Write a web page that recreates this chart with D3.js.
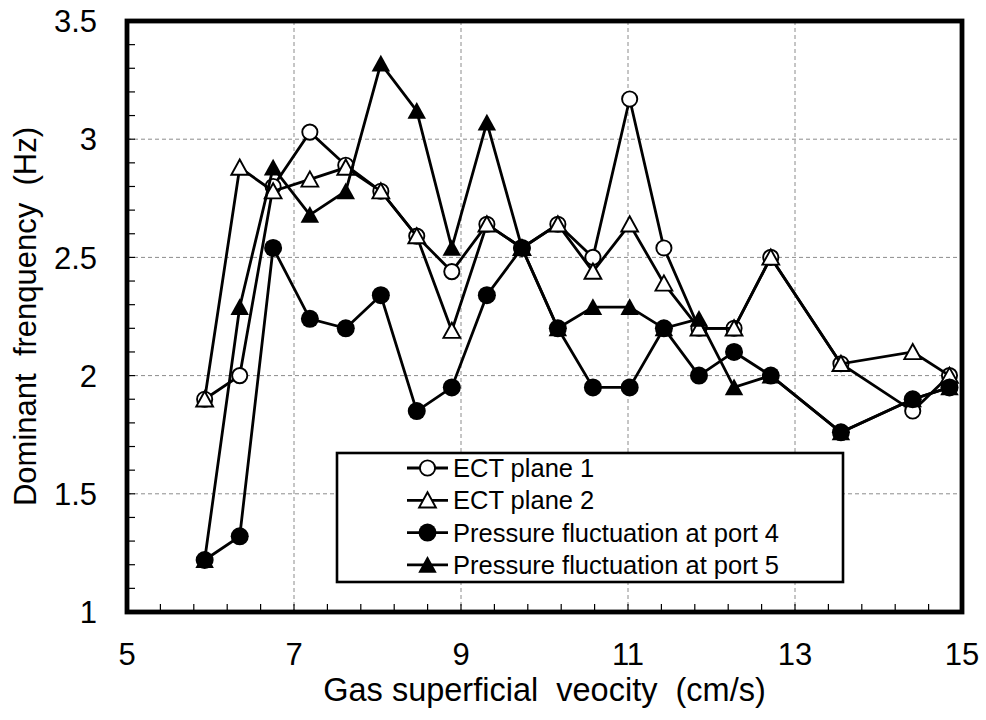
<!DOCTYPE html>
<html>
<head>
<meta charset="utf-8">
<script src="https://cdn.jsdelivr.net/npm/d3@7"></script>
<style>
  html, body { margin: 0; padding: 0; background: #fff; }
  svg { display: block; }
  text { font-family: "Liberation Sans", Arial, sans-serif; fill: #000; white-space: pre; }
</style>
</head>
<body>
<svg id="chart" width="986" height="720"></svg>
<script>
// ---- data ----
const velocity = [5.93, 6.35, 6.75, 7.19, 7.62, 8.04, 8.47, 8.89, 9.31, 9.73, 10.16, 10.58, 11.02, 11.43, 11.85, 12.27, 12.71, 13.55, 14.41, 14.85];
const ectPlane1 = [1.90, 2.00, 2.80, 3.03, 2.89, 2.78, 2.59, 2.44, 2.64, 2.54, 2.64, 2.50, 3.17, 2.54, 2.20, 2.20, 2.50, 2.05, 1.85, 2.00];
const ectPlane2 = [1.90, 2.88, 2.78, 2.83, 2.88, 2.78, 2.59, 2.19, 2.64, 2.54, 2.64, 2.44, 2.64, 2.39, 2.20, 2.20, 2.50, 2.05, 2.10, 2.00];
const port4 = [1.22, 1.32, 2.54, 2.24, 2.20, 2.34, 1.85, 1.95, 2.34, 2.54, 2.20, 1.95, 1.95, 2.20, 2.00, 2.10, 2.00, 1.76, 1.90, 1.95];
const port5 = [1.22, 2.29, 2.88, 2.68, 2.78, 3.32, 3.12, 2.54, 3.07, 2.54, 2.20, 2.29, 2.29, 2.20, 2.24, 1.95, 2.00, 1.76, 1.90, 1.95];
const seriesNames = ["ECT plane 1", "ECT plane 2", "Pressure fluctuation at port 4", "Pressure fluctuation at port 5"];
const xTicks = [5, 7, 9, 11, 13, 15];
const yTicks = [1, 1.5, 2, 2.5, 3, 3.5];
const xTitle = "Gas superficial  veocity  (cm/s)";
const yTitle = "Dominant  frenquency  (Hz)";

// ---- layout ----
const L = 127, R = 962, T = 21, B = 612;
const svg = d3.select("#chart");
const x = d3.scaleLinear().domain([5, 15]).range([L, R]);
const y = d3.scaleLinear().domain([1, 3.5]).range([B, T]);

// gridlines
const grid = svg.append("g").attr("stroke", "#8c8c8c").attr("stroke-width", 1).attr("stroke-dasharray", "4,3");
xTicks.slice(1, -1).forEach(v => grid.append("line").attr("x1", x(v)).attr("x2", x(v)).attr("y1", T).attr("y2", B));
yTicks.slice(1, -1).forEach(v => grid.append("line").attr("y1", y(v)).attr("y2", y(v)).attr("x1", L).attr("x2", R));

// minor ticks (inside)
const tk = svg.append("g").attr("stroke", "#000").attr("stroke-width", 1.2);
d3.range(1, 35).map(i => 1 + i * 0.1).filter(v => v < 3.5).forEach(v =>
  tk.append("line").attr("x1", L).attr("x2", L + 8).attr("y1", y(v)).attr("y2", y(v)));
d3.range(1, 25).map(i => 5 + i * 0.4).filter(v => v < 15).forEach(v =>
  tk.append("line").attr("x1", x(v)).attr("x2", x(v)).attr("y1", B).attr("y2", B - 8));

// frame
svg.append("rect").attr("x", L).attr("y", T).attr("width", R - L).attr("height", B - T)
  .attr("fill", "none").attr("stroke", "#000").attr("stroke-width", 4.8);

// tick labels
yTicks.forEach(v => svg.append("text").attr("x", 97).attr("y", y(v)).attr("dy", "0.36em")
  .attr("text-anchor", "end").attr("font-size", 31).text(v));
xTicks.forEach(v => svg.append("text").attr("x", x(v)).attr("y", 665)
  .attr("text-anchor", "middle").attr("font-size", 31).text(v));

// axis titles
svg.append("text").attr("x", (L + R) / 2).attr("y", 701).attr("text-anchor", "middle")
  .attr("font-size", 32.5).text(xTitle);
svg.append("text").attr("transform", `translate(36,${(T + B) / 2}) rotate(-90)`)
  .attr("text-anchor", "middle").attr("font-size", 31).text(yTitle);

// markers
const triPath = (s) => `M0,${-s}L${s * 1.05},${s * 0.9}L${-s * 1.05},${s * 0.9}Z`;
function drawMarker(g, type, cx, cy) {
  if (type === "oc") g.append("circle").attr("cx", cx).attr("cy", cy).attr("r", 7.6).attr("fill", "#fff").attr("stroke", "#000").attr("stroke-width", 1.9);
  if (type === "fc") g.append("circle").attr("cx", cx).attr("cy", cy).attr("r", 9).attr("fill", "#000");
  if (type === "ot") g.append("path").attr("d", triPath(8)).attr("transform", `translate(${cx},${cy})`).attr("fill", "#fff").attr("stroke", "#000").attr("stroke-width", 1.9);
  if (type === "ft") g.append("path").attr("d", triPath(8.8)).attr("transform", `translate(${cx},${cy})`).attr("fill", "#000");
}

const series = [
  { vals: ectPlane1, m: "oc" },
  { vals: ectPlane2, m: "ot" },
  { vals: port5, m: "ft" },
  { vals: port4, m: "fc" }
];
const line = d3.line().x(d => x(d[0])).y(d => y(d[1]));
series.forEach(s => {
  const g = svg.append("g");
  const pts = velocity.map((v, i) => [v, s.vals[i]]);
  g.append("path").attr("d", line(pts)).attr("fill", "none").attr("stroke", "#000").attr("stroke-width", 2.8).attr("stroke-linejoin", "miter");
  pts.forEach(p => drawMarker(g, s.m, x(p[0]), y(p[1])));
});

// legend
const lg = svg.append("g");
lg.append("rect").attr("x", 337).attr("y", 453).attr("width", 506).attr("height", 129)
  .attr("fill", "#fff").attr("stroke", "#000").attr("stroke-width", 2.6);
const legendMarkers = ["oc", "ot", "fc", "ft"];
seriesNames.forEach((name, i) => {
  const ly = 468 + i * 32.3;
  lg.append("line").attr("x1", 407).attr("x2", 448).attr("y1", ly).attr("y2", ly).attr("stroke", "#000").attr("stroke-width", 2.8);
  drawMarker(lg, legendMarkers[i], 427.5, ly);
  lg.append("text").attr("x", 453).attr("y", ly).attr("dy", "0.36em").attr("font-size", 25.5).text(name);
});
</script>
</body>
</html>
